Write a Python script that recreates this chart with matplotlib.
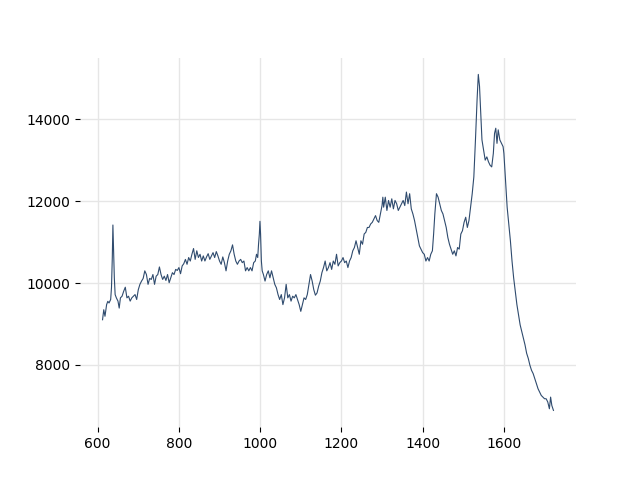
import matplotlib
matplotlib.use("Agg")
import matplotlib.pyplot as plt

# Raman shift (cm-1) and intensity
shift = [
    612, 615, 618, 622, 625, 628, 632, 634, 636, 637.5, 639, 641, 643, 646, 650,
    653, 656, 660, 664, 668, 672, 676, 680, 684, 688, 692, 696, 700, 704, 708,
    712, 716, 720, 724, 728, 732, 736, 740, 744, 748, 752, 756, 760, 764, 768,
    772, 776, 780, 784, 788, 792, 796, 800, 804, 808, 812, 816, 820, 824, 828,
    832, 836, 840, 844, 848, 852, 856, 860, 864, 868, 872, 876, 880, 884, 888,
    892, 896, 900, 904, 908, 912, 916, 920, 924, 928, 932, 936, 940, 944, 948,
    952, 956, 960, 964, 968, 972, 976, 980, 984, 988, 991, 994, 996, 998, 999.5,
    1001, 1003, 1005, 1008, 1012, 1016, 1020, 1024, 1028, 1032, 1036, 1040, 1044, 1048, 1052,
    1056, 1060, 1064, 1068, 1072, 1076, 1080, 1084, 1088, 1092, 1096, 1100, 1104, 1108, 1112,
    1116, 1120, 1124, 1128, 1132, 1136, 1140, 1144, 1148, 1152, 1156, 1160, 1164, 1168, 1172,
    1176, 1180, 1184, 1188, 1192, 1196, 1200, 1204, 1208, 1212, 1216, 1220, 1224, 1228, 1232,
    1236, 1240, 1244, 1248, 1252, 1256, 1260, 1264, 1268, 1272, 1276, 1280, 1284, 1288, 1292,
    1296, 1300, 1302, 1304, 1308, 1312, 1316, 1320, 1324, 1328, 1332, 1336, 1340, 1344, 1348,
    1352, 1356, 1360, 1364, 1368, 1372, 1376, 1380, 1384, 1388, 1392, 1396, 1400, 1404, 1408,
    1412, 1416, 1420, 1424, 1427, 1430, 1434, 1438, 1442, 1446, 1450, 1454, 1458, 1462, 1466,
    1470, 1474, 1478, 1482, 1486, 1490, 1494, 1498, 1502, 1506, 1510, 1514, 1518, 1522, 1526,
    1530, 1534, 1537, 1540, 1543, 1546, 1550, 1554, 1558, 1562, 1566, 1570, 1574, 1577, 1580,
    1583, 1586, 1590, 1594, 1598, 1600, 1602, 1605, 1608, 1612, 1616, 1620, 1624, 1628, 1632,
    1636, 1640, 1644, 1648, 1652, 1656, 1660, 1664, 1668, 1672, 1676, 1680, 1684, 1688, 1692,
    1696, 1700, 1704, 1708, 1712, 1715, 1718, 1722,
]
intensity = [
    9105, 9350, 9190, 9475, 9555, 9515, 9600, 9890, 10620, 11420, 10870, 10130, 9720, 9640, 9560,
    9390, 9640, 9680, 9800, 9900, 9640, 9680, 9560, 9640, 9680, 9720, 9600, 9840, 9970, 10050,
    10115, 10300, 10210, 9970, 10115, 10090, 10210, 9970, 10170, 10210, 10395, 10210, 10090, 10170, 10065,
    10210, 10010, 10130, 10255, 10210, 10335, 10310, 10380, 10230, 10420, 10475, 10580, 10460, 10625, 10540,
    10705, 10845, 10580, 10790, 10625, 10705, 10540, 10665, 10540, 10640, 10720, 10580, 10665, 10745, 10625,
    10770, 10665, 10540, 10460, 10640, 10500, 10300, 10540, 10705, 10790, 10935, 10705, 10540, 10460, 10540,
    10580, 10500, 10540, 10300, 10380, 10300, 10380, 10300, 10500, 10540, 10705, 10625, 10950, 11200, 11510,
    11200, 10540, 10300, 10210, 10050, 10210, 10300, 10130, 10300, 10130, 9970, 9885, 9720, 9600, 9720,
    9475, 9640, 9970, 9640, 9720, 9560, 9680, 9640, 9720, 9600, 9475, 9310, 9475, 9640, 9600,
    9720, 9970, 10210, 10050, 9840, 9705, 9760, 9925, 10050, 10255, 10380, 10540, 10300, 10380, 10500,
    10335, 10540, 10460, 10705, 10420, 10500, 10540, 10625, 10500, 10540, 10380, 10540, 10625, 10790, 10870,
    11035, 10870, 10705, 11035, 10950, 11200, 11240, 11360, 11360, 11445, 11485, 11570, 11650, 11530, 11485,
    11690, 11895, 12100, 11855, 12100, 11775, 12020, 11855, 12060, 11815, 12020, 11940, 11775, 11855, 11940,
    12020, 11895, 12225, 11940, 12185, 11815, 11690, 11530, 11320, 11115, 10910, 10830, 10745, 10705, 10540,
    10625, 10540, 10705, 10790, 11200, 11690, 12185, 12100, 11940, 11775, 11690, 11530, 11360, 11115, 10950,
    10830, 10705, 10790, 10665, 10870, 10830, 11200, 11280, 11485, 11610, 11360, 11530, 11855, 12185, 12595,
    13500, 14485, 15100, 14810, 14155, 13500, 13250, 13005, 13085, 12965, 12880, 12840, 13170, 13660, 13785,
    13415, 13745, 13500, 13415, 13335, 13170, 12840, 12350, 11855, 11445, 11035, 10540, 10130, 9800, 9475,
    9230, 8980, 8820, 8655, 8490, 8285, 8160, 7995, 7870, 7790, 7670, 7545, 7420, 7340, 7255,
    7215, 7175, 7175, 7095, 6930, 7215, 7010, 6890,
]

LINE_COLOR = "#2f4b6e"


def main() -> None:
    fig, ax = plt.subplots(figsize=(6.4, 4.8), dpi=100)
    ax.plot(shift, intensity, color=LINE_COLOR, linewidth=0.8)

    ax.grid(True, color="#e6e6e6", linewidth=1.0)
    ax.set_axisbelow(True)
    for spine in ax.spines.values():
        spine.set_visible(False)
    ax.set_xticks([600, 800, 1000, 1200, 1400, 1600])
    ax.set_yticks([8000, 10000, 12000, 14000])

    fig.savefig("out.png", dpi=100)
    plt.close(fig)


if __name__ == "__main__":
    main()
